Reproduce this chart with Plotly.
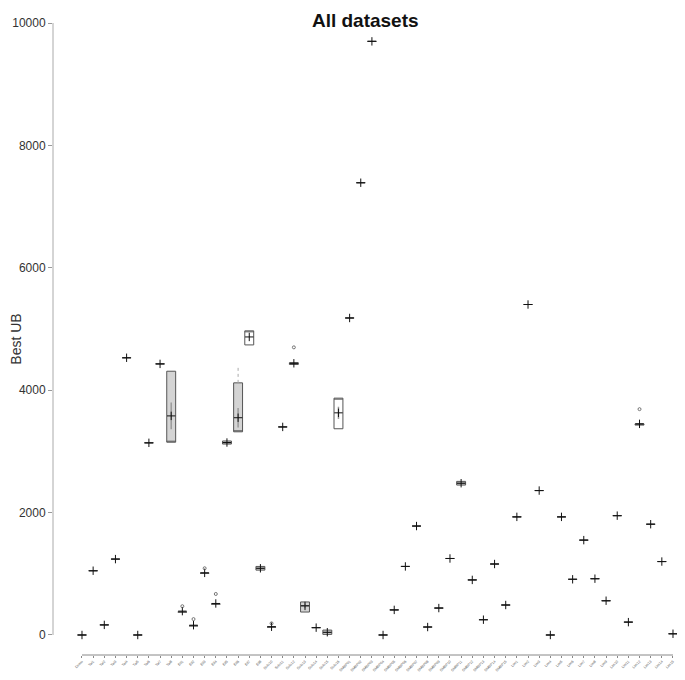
import plotly.graph_objects as go

# dataset names (read approximately from the tiny rotated labels)
names = (["Demo"] + ["Tai%d" % i for i in range(1, 9)] + ["Eil%d" % i for i in range(1, 9)]
         + ["Solo%d" % i for i in range(10, 17)] + ["SMBP%02d" % i for i in range(1, 16)]
         + ["Lim%d" % i for i in range(1, 16)])

q1 = [0, 1050, 165, 1240, 4530, 0, 3140, 4430, 3150, 375, 150, 1010, 505, 3120, 3320, 4740, 1060, 130,
      3400, 4420, 375, 120, 10, 3370, 5180, 7390, 9700, 0, 410, 1120, 1780, 130, 440, 1250, 2450, 900,
      250, 1160, 490, 1930, 5400, 2360, 0, 1930, 910, 1550, 920, 560, 1950, 210, 3430, 1810, 1200, 20]
median = [0, 1050, 165, 1240, 4530, 0, 3140, 4430, 3150, 375, 150, 1010, 505, 3140, 3330, 4960, 1090, 130,
          3400, 4440, 480, 120, 40, 3870, 5180, 7390, 9700, 0, 410, 1120, 1780, 130, 440, 1250, 2480, 900,
          250, 1160, 490, 1930, 5400, 2360, 0, 1930, 910, 1550, 920, 560, 1950, 210, 3440, 1810, 1200, 20]
q3 = [0, 1050, 165, 1240, 4530, 0, 3140, 4430, 4310, 375, 150, 1010, 505, 3170, 4120, 4970, 1120, 130,
      3400, 4450, 540, 120, 80, 3870, 5180, 7390, 9700, 0, 410, 1120, 1780, 130, 440, 1250, 2510, 900,
      250, 1160, 490, 1930, 5400, 2360, 0, 1930, 910, 1550, 920, 560, 1950, 210, 3450, 1810, 1200, 20]
upper = [0] * 54
upper[14] = 4410
mean = [0, 1050, 165, 1240, 4530, 0, 3140, 4430, 3580, 390, 160, 1015, 515, 3145, 3550, 4870, 1090, 135,
        3400, 4440, 475, 120, 45, 3630, 5180, 7390, 9700, 0, 410, 1120, 1780, 130, 440, 1250, 2480, 900,
        250, 1160, 490, 1930, 5400, 2360, 0, 1930, 910, 1550, 920, 560, 1950, 210, 3450, 1810, 1200, 20]
ci = [0] * 54
ci[8] = 220
ci[14] = 160
ci[23] = 100
ci[20] = 40
white = [15, 23]
out_idx = [9, 10, 11, 12, 17, 19, 50]
out_val = [470, 260, 1090, 670, 190, 4700, 3690]

fig = go.Figure()
for grp, fill in [([i for i in range(54) if i not in white], "#d4d4d4"), (white, "#ffffff")]:
    fig.add_trace(go.Box(
        x=[names[i] for i in grp], q1=[q1[i] for i in grp], median=[median[i] for i in grp],
        q3=[q3[i] for i in grp], lowerfence=[q1[i] for i in grp], upperfence=[q3[i] for i in grp],
        fillcolor=fill, line=dict(color="#555555", width=1), whiskerwidth=0,
        width=0.8, boxpoints=False, hoverinfo="skip", showlegend=False))

# upper whisker(s)
for i, u in enumerate(upper):
    if u:
        fig.add_trace(go.Scatter(x=[names[i], names[i]], y=[q3[i], u], mode="lines",
                                 line=dict(color="#aaaaaa", width=1, dash="dot"), showlegend=False))

# mean with confidence interval
fig.add_trace(go.Scatter(
    x=names, y=mean, mode="markers", cliponaxis=False,
    marker=dict(symbol="cross-thin", size=6, line=dict(color="#111111", width=1)),
    error_y=dict(type="data", array=ci, color="#999999", thickness=1.5, width=0),
    showlegend=False))

# outliers
fig.add_trace(go.Scatter(
    x=[names[i] for i in out_idx], y=out_val, mode="markers", cliponaxis=False,
    marker=dict(symbol="circle-open", size=3, color="#555555", line=dict(width=0.8)),
    showlegend=False))

# the page adds an 8px body margin, so the figure is kept inside the window
fig.update_layout(
    width=669, height=664,
    margin=dict(l=45, r=0, t=15, b=17),
    plot_bgcolor="white", paper_bgcolor="white",
    font=dict(family="Liberation Sans, Arial", color="#333333"),
    title=dict(text="<b>All datasets</b>", x=0.534, xanchor="center", y=0.992, yanchor="top",
               pad=dict(t=0), font=dict(size=19, color="#111111")),
    xaxis=dict(type="category", categoryorder="array", categoryarray=names,
               range=[-2.6, 53.36], showgrid=False, showline=False,
               ticks="outside", ticklen=2, tickcolor="#888888", tickangle=-45,
               tickfont=dict(size=3.6, color="#555555"), automargin=False),
    yaxis=dict(range=[-327, 10000], tickvals=[0, 2000, 4000, 6000, 8000, 10000],
               ticktext=["0", "2000", "4000", "6000", "8000", "10000"],
               showgrid=False, zeroline=False, showline=False, ticks="outside",
               ticklen=4, tickcolor="#999999", tickfont=dict(size=12, color="#333333"),
               title=dict(text="Best UB", font=dict(size=14, color="#333333"), standoff=15),
               automargin=False),
)
# axis lines: y from 0 to 10000, x from first to last category
fig.add_shape(type="line", xref="paper", yref="y", x0=0, x1=0, y0=0, y1=10000,
              line=dict(color="#aaaaaa", width=1))
fig.add_shape(type="line", xref="x", yref="paper", x0=0, x1=53, y0=0, y1=0,
              line=dict(color="#888888", width=1))

fig.write_html("out.html")
